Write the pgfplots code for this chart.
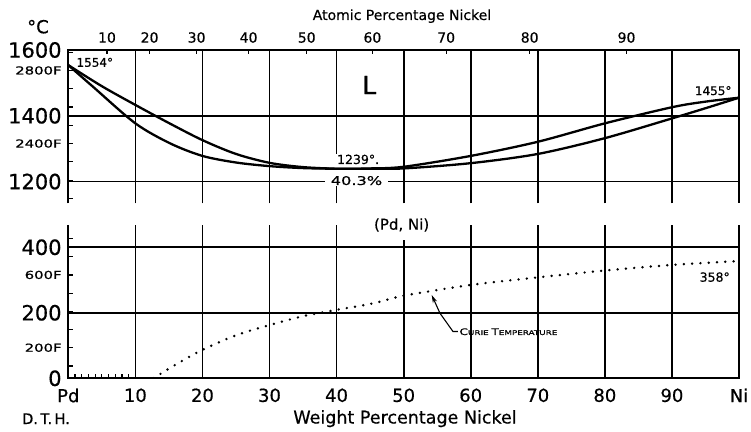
\documentclass[border=0pt]{standalone}
\usepackage{pgfplots}
\pgfplotsset{compat=1.18}
\usepackage{pgfplotstable}
\usepackage{fontspec}
\setmainfont{DejaVu Sans}[RawFeature={embolden=0.5}]
\newfontfamily\wide{DejaVu Sans}[FakeStretch=1.35, RawFeature={embolden=0.8}]
\usetikzlibrary{arrows.meta}
\newcommand\fs[1]{\fontsize{#1}{#1}\selectfont}

\pgfplotstableread{
x y
0 1554
5 1490
10 1433
15 1378
20 1326
25 1284
30 1257
35 1244
40.3 1239
45 1240
50 1245
60 1278
70 1321
80 1377
90 1426
95 1443
100 1455
}\liquidus

\pgfplotstableread{
x y
0 1554
3.7 1488
10 1377
15.2 1316
20 1278
25 1258
30 1247
35 1241
40.3 1239
45 1239.3
50 1240
60 1256
70 1284
80 1332
90 1392
95 1423
100 1455
}\solidus

\pgfplotstableread{
x y
12.7 0
15.7 38
19.9 86
25.1 132
30.1 163
35.1 190
40 209
45.5 229
50 252
60 285
70 308
80 329
90 346
100 358
}\curie

\begin{document}
\begin{tikzpicture}
\useasboundingbox (0,0) rectangle (751bp,432bp);
\pgfplotsset{common/.style={
  scale only axis, width=670.7bp, height=153.3bp, anchor=south west,
  xmin=0, xmax=100, clip mode=individual,
  axis line style={draw=none},
  grid=major, major grid style={black, line width=1.7bp},
  major tick length=0pt, ytick pos=left,
  /pgf/number format/assume math mode=true,
  yticklabel style={anchor=east, inner sep=0pt, xshift=-6.5bp, font=\fs{21bp}},
  extra y tick style={grid=none, major tick length=5bp, tick style={line width=1.2bp, black}},
}}

% ---------------- upper panel ----------------
\begin{axis}[common, at={(68.3bp,228.7bp)}, ymin=1134, ymax=1600,
  xtick={10,20,30,40,50,60,70,80,90}, xticklabels={}, xtick pos=right, xticklabel pos=right,
  ytick={1200,1400,1600}, yticklabels={1200,1400,1600},
  extra x ticks={5.77,12.12,19.13,26.88,35.55,45.34,56.34,68.79,83.23},
  extra x tick labels={10,20,30,40,50,60,70,80,90},
  extra x tick style={grid=none, major tick length=4bp, tick style={line width=1.2bp, black},
     xticklabel style={font=\fs{14bp}, anchor=south, inner sep=0pt, yshift=7bp}},
  extra y ticks={1148.9,1204.4,1260.0,1315.6,1371.1,1426.7,1482.2,1537.8,1593.3},
  extra y tick labels={,,,{\wide\fs{11bp}2400F},,,,{\wide\fs{11bp}2800F},},
]
\fill[white] (axis cs:39.5,1195) rectangle (axis cs:40.5,1262);
\node[anchor=base west, font=\fs{12.5bp}, fill=white, inner xsep=2bp, inner ysep=1bp] at (axis cs:39.75,1253.5) {1239°.};
\node[anchor=base, font=\wide\fs{12bp}, fill=white, inner xsep=6bp, inner ysep=1bp] at (axis cs:42.97,1189.7) {40.3\%};
\addplot[black, line width=2.3bp, smooth] table {\liquidus};
\addplot[black, line width=2.3bp, smooth] table {\solidus};
\draw[black, line width=2bp] (rel axis cs:0,0) -- (rel axis cs:0,1) -- (rel axis cs:1,1) -- (rel axis cs:1,0);
\node[anchor=base west, font=\fs{12bp}] at (axis cs:0.7,1549) {1554°};
\node[anchor=base east, font=\fs{12bp}] at (axis cs:99.4,1463) {1455°};
\node[anchor=base west, font=\fs{25bp}, inner sep=0pt] at (axis cs:43.8,1466) {L};
\end{axis}

% ---------------- lower panel ----------------
\begin{axis}[common, at={(68.3bp,53.7bp)}, ymin=0, ymax=468,
  xtick={0,10,20,30,40,50,60,70,80,90,100},
  xticklabels={Pd,10,20,30,40,50,60,70,80,90,Ni}, xtick pos=left, xticklabel pos=left,
  xticklabel style={font=\fs{18bp}, anchor=north, inner sep=0pt, yshift=-10bp},
  minor xtick={1,2,3,4,5,6,7,8,9}, minor tick length=4.5bp, minor tick style={line width=1.2bp, black},
  ytick={0,200,400}, yticklabels={0,200,400},
  extra y ticks={37.8,93.3,148.9,204.4,260.0,315.6,371.1,426.7},
  extra y tick labels={,{\wide\fs{11bp}200F},,,,{\wide\fs{11bp}600F},,},
]
\node[font=\fs{15bp}, fill=white, inner xsep=4bp, inner ysep=8bp] at (axis cs:49.7,468) {(Pd, Ni)};
\addplot[black, line width=2.7bp, smooth, line cap=round, dash pattern=on 0bp off 8.3bp] table {\curie};
\draw[black, line width=2bp] (rel axis cs:0,1) -- (rel axis cs:0,0) -- (rel axis cs:1,0) -- (rel axis cs:1,1);
\node[anchor=base east, font=\fs{12.5bp}] at (axis cs:99.15,295) {358°};
\node[anchor=base west, font=\wide, inner sep=0pt] at (axis cs:58.3,132.2) {\fs{9bp}C\fs{6.5bp}URIE \fs{9bp}T\fs{6.5bp}EMPERATURE};
\draw[black, line width=1.1bp, -{Stealth[length=8bp,width=4.5bp]}] (axis cs:58.1,143) -- (axis cs:57.35,143) -- (axis cs:55.42,198.5) -- (axis cs:54.18,254.4);
\end{axis}

% ---------------- outer labels ----------------
\node[anchor=base, font=\fs{18bp}] at (38bp,398.7bp) {°C};
\node[anchor=base, font=\fs{14bp}] at (402bp,412bp) {Atomic Percentage Nickel};
\node[anchor=base, font=\fs{17.5bp}] at (405bp,8.5bp) {Weight Percentage Nickel};
\node[anchor=base, font=\fs{14.5bp}] at (46bp,8bp) {D.\,T.\,H.};
\end{tikzpicture}
\end{document}
